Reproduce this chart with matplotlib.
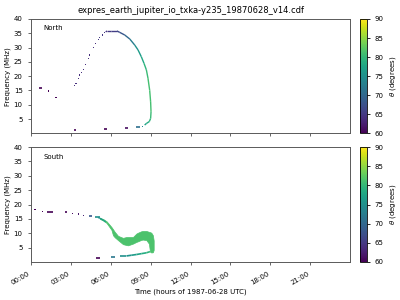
import numpy as np
import matplotlib
matplotlib.use("Agg")
import matplotlib.pyplot as plt
from matplotlib.collections import LineCollection
from matplotlib.colors import Normalize
from matplotlib.ticker import FuncFormatter

title = "expres_earth_jupiter_io_txka-y235_19870628_v14.cdf"

# North: sparse rising dots (hours, MHz, theta deg)
north_dot_time = [1.30, 1.88, 3.25, 3.38, 3.55, 3.68, 3.80, 3.92, 4.10, 4.30, 4.43,
                  4.68, 4.85, 5.05, 5.18, 5.38, 5.50, 8.36]
north_dot_freq = [14.8, 12.6, 16.6, 17.5, 19.3, 20.4, 21.2, 22.2, 24.2, 26.3, 27.4,
                  30.0, 31.3, 32.7, 33.5, 34.4, 35.2, 2.3]
north_dot_theta = [60, 60, 64, 64, 64, 64, 64, 64, 64, 64, 64,
                   64, 64, 65, 65, 65, 65, 74]

# North: continuous arc
north_arc_time = [5.62, 5.72, 6.00, 6.47, 6.68, 7.05, 7.43, 7.80, 8.05, 8.30, 8.50,
                  8.68, 8.80, 8.93, 9.00, 9.03, 9.00, 8.90, 8.70, 8.55]
north_arc_freq = [35.5, 35.8, 35.8, 35.8, 35.3, 34.4, 33.0, 30.9, 29.2, 26.8, 24.5,
                  22.2, 19.3, 15.0, 11.0, 7.5, 5.2, 4.1, 3.5, 2.9]
north_arc_theta = [64, 65, 65, 66, 67, 69, 71, 74, 76, 77, 79,
                   80, 81, 81, 81, 81, 80, 79, 78, 77]

# North: short dashes (start, end, MHz, theta)
north_dash_t0 = [0.60, 3.20, 5.48, 7.05, 7.93]
north_dash_t1 = [0.85, 3.40, 5.72, 7.28, 8.18]
north_dash_freq = [15.75, 1.05, 1.5, 2.0, 2.1]
north_dash_theta = [60, 60, 60, 61, 71]

# South: dots
south_dot_time = [0.30, 0.85, 3.10, 3.55, 3.98]
south_dot_freq = [18.4, 17.6, 17.0, 16.7, 16.3]
south_dot_theta = [60, 60, 61, 62, 63]

# South: dashes
south_dash_t0 = [1.22, 2.55, 4.33, 4.80, 4.88, 6.05, 6.68]
south_dash_t1 = [1.63, 2.68, 4.58, 5.18, 5.18, 6.33, 7.13]
south_dash_freq = [17.4, 17.4, 16.1, 15.5, 1.3, 1.8, 2.05]
south_dash_theta = [60, 60, 68, 75, 60, 72, 75]

# South: thin neck before the band
south_neck_time = [5.05, 5.18, 5.43, 5.62]
south_neck_freq = [15.5, 15.2, 14.6, 13.9]
south_neck_theta = [75, 76, 77, 78]

# South: thick band (upper branch + right end)
south_band_time = [5.18, 5.45, 5.68, 5.85, 6.05, 6.17, 6.30, 6.55, 6.92, 7.18, 7.30,
                   7.67, 7.93, 8.05, 8.30, 8.42, 8.68, 8.87, 8.95, 9.05, 9.17, 9.23]
south_band_top = [15.4, 14.9, 14.2, 13.3, 12.2, 11.4, 10.5, 9.1, 8.4, 8.7, 8.7,
                  8.7, 9.9, 10.2, 10.7, 10.8, 10.8, 10.5, 10.4, 10.2, 9.3, 7.5]
south_band_bottom = [15.0, 14.4, 13.6, 12.5, 11.2, 9.3, 8.6, 7.6, 6.2, 5.9, 5.8,
                     6.4, 7.0, 7.2, 7.7, 7.8, 7.6, 6.4, 3.6, 3.3, 3.4, 4.2]
south_band_theta = 81.5

# South: lower branch
south_low_time = [7.18, 7.55, 7.93, 8.30, 8.68, 8.95]
south_low_freq = [2.1, 2.35, 2.6, 2.9, 3.2, 3.6]
south_low_theta = [75, 76, 77, 78, 79, 80]

xticks = [0, 3, 6, 9, 12, 15, 18, 21]
cmap = plt.get_cmap("viridis")
norm = Normalize(60, 90)
fs = 5


def colored_line(ax, t, f, th, lw):
    pts = np.column_stack([t, f])
    segs = np.stack([pts[:-1], pts[1:]], axis=1)
    vals = (np.array(th[:-1]) + np.array(th[1:])) / 2
    lc = LineCollection(segs, cmap=cmap, norm=norm, linewidths=lw, capstyle="butt")
    lc.set_array(vals)
    ax.add_collection(lc)


def dashes(ax, t0, t1, f, th):
    ax.hlines(f, t0, t1, colors=cmap(norm(np.array(th))), linewidth=1.2)


def style(ax, label):
    ax.set_xlim(0, 24)
    ax.set_ylim(0, 40)
    ax.set_xticks(xticks)
    ax.set_yticks([5, 10, 15, 20, 25, 30, 35, 40])
    ax.tick_params(labelsize=fs, length=2.5, width=0.6, color="0.3")
    for s in ax.spines.values():
        s.set_color("0.35")
        s.set_linewidth(0.7)
    ax.set_ylabel("Frequency (MHz)", fontsize=fs, labelpad=2)
    ax.text(0.04, 0.9, label, transform=ax.transAxes, fontsize=fs)


fig = plt.figure(figsize=(4, 3), dpi=100)
ax1 = fig.add_axes([0.0775, 0.5557, 0.7975, 0.381])
ax2 = fig.add_axes([0.0775, 0.1267, 0.7975, 0.383])
cax1 = fig.add_axes([0.9, 0.5557, 0.0175, 0.381])
cax2 = fig.add_axes([0.9, 0.1267, 0.0175, 0.383])

# North
colored_line(ax1, north_arc_time, north_arc_freq, north_arc_theta, 1.0)
sc = ax1.scatter(north_dot_time, north_dot_freq, c=north_dot_theta, cmap=cmap, norm=norm,
                 marker="s", s=0.7, linewidths=0)
dashes(ax1, north_dash_t0, north_dash_t1, north_dash_freq, north_dash_theta)
style(ax1, "North")
ax1.set_xticklabels([])
ax1.set_title(title, fontsize=6, pad=4)

# South
ax2.fill_between(south_band_time, south_band_bottom, south_band_top,
                 color=cmap(norm(south_band_theta)), linewidth=0.5,
                 edgecolor=cmap(norm(south_band_theta)))
colored_line(ax2, south_neck_time, south_neck_freq, south_neck_theta, 1.0)
colored_line(ax2, south_low_time, south_low_freq, south_low_theta, 1.2)
ax2.scatter(south_dot_time, south_dot_freq, c=south_dot_theta, cmap=cmap, norm=norm,
            marker="s", s=0.7, linewidths=0)
dashes(ax2, south_dash_t0, south_dash_t1, south_dash_freq, south_dash_theta)
style(ax2, "South")
ax2.xaxis.set_major_formatter(FuncFormatter(lambda v, p: "%02d:00" % int(v)))
for lab in ax2.get_xticklabels():
    lab.set_rotation(30)
    lab.set_ha("right")
ax2.set_xlabel("Time (hours of 1987-06-28 UTC)", fontsize=fs, labelpad=2)

for cax in (cax1, cax2):
    cb = fig.colorbar(sc, cax=cax)
    cb.set_ticks([60, 65, 70, 75, 80, 85, 90])
    cb.ax.tick_params(labelsize=fs, length=2, width=0.6)
    cb.outline.set_linewidth(0.6)
    cb.set_label(r"$\theta$ (degrees)", fontsize=fs, labelpad=3)

fig.savefig("out.png", dpi=100)
